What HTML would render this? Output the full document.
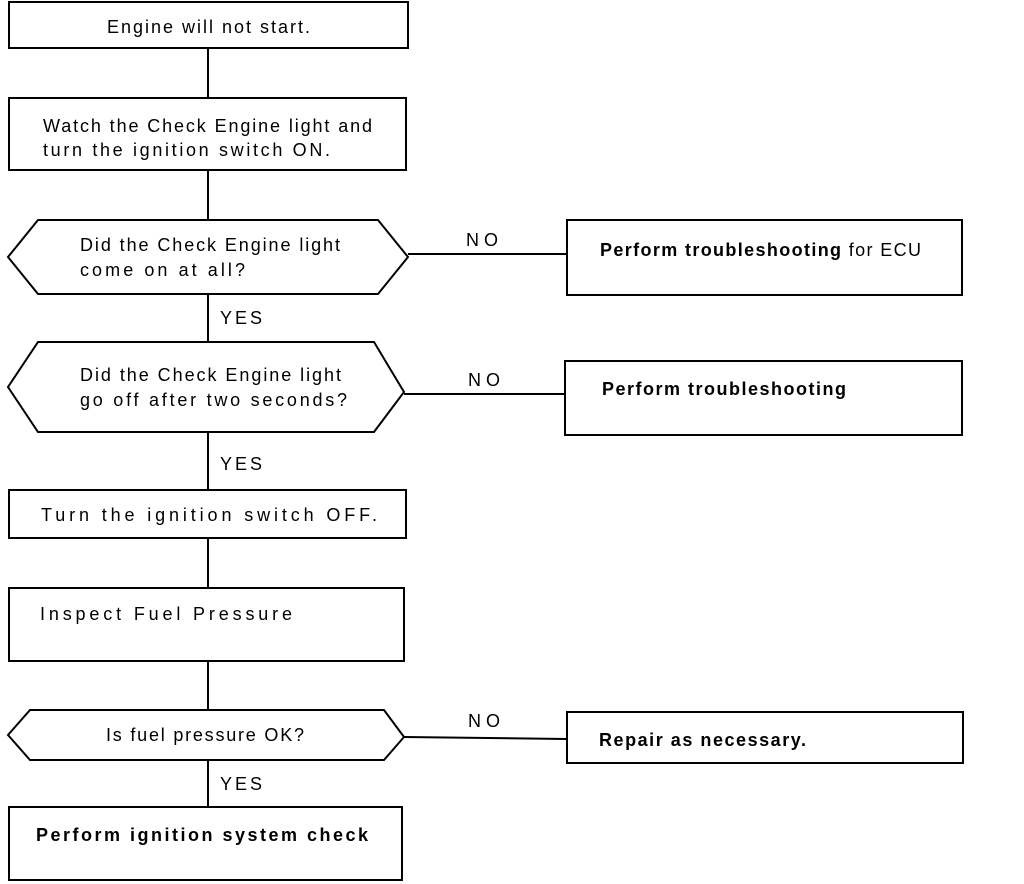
<!DOCTYPE html>
<html><head><meta charset="utf-8"><style>
html,body{margin:0;padding:0;background:#fff;}
svg{display:block;}
text{font-family:"Liberation Sans",sans-serif;font-size:18px;fill:#000;}
.b{font-weight:bold;}
</style></head><body>
<svg width="1024" height="884" viewBox="0 0 1024 884" xmlns="http://www.w3.org/2000/svg">
<g fill="none" stroke="#000" stroke-width="2">
<rect x="9" y="2" width="399" height="46"/>
<line x1="208" y1="48" x2="208" y2="98"/>
<rect x="9" y="98" width="397" height="72"/>
<line x1="208" y1="170" x2="208" y2="220"/>
<polygon points="38,220 378,220 408,257 378,294 38,294 8,257"/>
<line x1="408" y1="254" x2="567" y2="254"/>
<rect x="567" y="220" width="395" height="75"/>
<line x1="208" y1="294" x2="208" y2="342"/>
<polygon points="38,342 374,342 404,392 374,432 38,432 8,387"/>
<line x1="404" y1="394" x2="565" y2="394"/>
<rect x="565" y="361" width="397" height="74"/>
<line x1="208" y1="432" x2="208" y2="490"/>
<rect x="9" y="490" width="397" height="48"/>
<line x1="208" y1="538" x2="208" y2="588"/>
<rect x="9" y="588" width="395" height="73"/>
<line x1="208" y1="661" x2="208" y2="710"/>
<polygon points="30,710 384,710 404,737 384,760 30,760 8,735"/>
<line x1="404" y1="737" x2="567" y2="739"/>
<rect x="567" y="712" width="396" height="51"/>
<line x1="208" y1="760" x2="208" y2="807"/>
<rect x="9" y="807" width="393" height="73"/>
</g>
<text x="107" y="33" textLength="203" lengthAdjust="spacing">Engine will not start.</text>
<text x="43" y="132" textLength="329" lengthAdjust="spacing">Watch the Check Engine light and</text>
<text x="43" y="156" textLength="287" lengthAdjust="spacing">turn the ignition switch ON.</text>
<text x="80" y="251" textLength="260" lengthAdjust="spacing">Did the Check Engine light</text>
<text x="80" y="276" textLength="165" lengthAdjust="spacing">come on at all?</text>
<text x="466" y="246" textLength="32" lengthAdjust="spacing">NO</text>
<text x="600" y="256" textLength="321" lengthAdjust="spacing"><tspan class="b">Perform troubleshooting</tspan> for ECU</text>
<text x="220" y="324" textLength="42" lengthAdjust="spacing">YES</text>
<text x="80" y="381" textLength="261" lengthAdjust="spacing">Did the Check Engine light</text>
<text x="80" y="406" textLength="267" lengthAdjust="spacing">go off after two seconds?</text>
<text x="468" y="386" textLength="32" lengthAdjust="spacing">NO</text>
<text x="602" y="395" class="b" textLength="244" lengthAdjust="spacing">Perform troubleshooting</text>
<text x="220" y="470" textLength="42" lengthAdjust="spacing">YES</text>
<text x="41" y="521" textLength="336" lengthAdjust="spacing">Turn the ignition switch OFF.</text>
<text x="40" y="620" textLength="252" lengthAdjust="spacing">Inspect Fuel Pressure</text>
<text x="106" y="741" textLength="198" lengthAdjust="spacing">Is fuel pressure OK?</text>
<text x="468" y="727" textLength="32" lengthAdjust="spacing">NO</text>
<text x="599" y="746" class="b" textLength="207" lengthAdjust="spacing">Repair as necessary.</text>
<text x="220" y="790" textLength="42" lengthAdjust="spacing">YES</text>
<text x="36" y="841" class="b" textLength="332" lengthAdjust="spacing">Perform ignition system check</text>
</svg>
</body></html>
